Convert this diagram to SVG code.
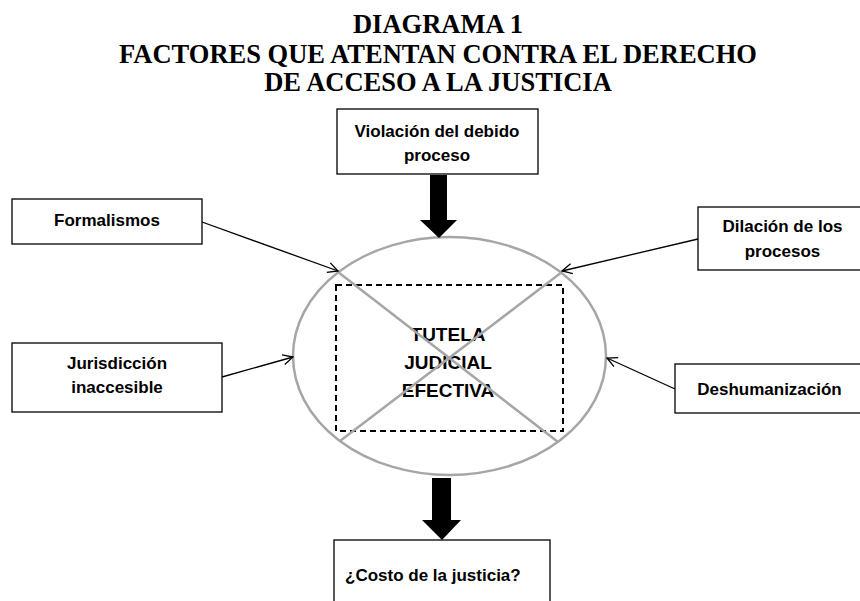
<svg xmlns="http://www.w3.org/2000/svg" width="860" height="601" viewBox="0 0 860 601">
<defs>
<style>
.title{font-family:"Liberation Serif","Times New Roman",serif;font-weight:bold;font-size:26.5px;fill:#000;text-anchor:middle}
.lbl{font-family:"Liberation Sans",Arial,sans-serif;font-weight:bold;font-size:17px;fill:#000;text-anchor:middle}
.center{font-family:"Liberation Sans",Arial,sans-serif;font-weight:bold;font-size:19px;fill:#000;text-anchor:middle}
.box{fill:#fff;stroke:#000;stroke-width:1.3}
.thin{stroke:#000;stroke-width:1.3;fill:none;marker-end:url(#open)}
.gray{stroke:#a6a6a6;stroke-width:2.5;fill:none}
.big{fill:#000;stroke:none}
</style>
<marker id="open" viewBox="0 0 12 12" refX="11" refY="6" markerWidth="12" markerHeight="12" markerUnits="userSpaceOnUse" orient="auto">
<path d="M1,1 L11,6 L1,11" fill="none" stroke="#000" stroke-width="1.3"/>
</marker>
</defs>
<rect width="860" height="601" fill="#fff"/>
<g id="title">
<text class="title" x="438" y="33">DIAGRAMA 1</text>
<text class="title" x="438" y="62.5">FACTORES QUE ATENTAN CONTRA EL DERECHO</text>
<text class="title" x="438" y="91">DE ACCESO A LA JUSTICIA</text>
</g>
<g id="center-node">
<ellipse class="gray" cx="449.5" cy="356" rx="156.5" ry="119"/>
<rect x="336" y="285" width="227" height="146" fill="none" stroke="#000" stroke-width="2" stroke-dasharray="6,4"/>
<text class="center" x="448" y="340.5">TUTELA</text>
<text class="center" x="448" y="369">JUDICIAL</text>
<text class="center" x="448" y="397">EFECTIVA</text>
<line class="gray" x1="338" y1="272" x2="558" y2="442"/>
<line class="gray" x1="562" y1="272" x2="340" y2="441"/>
</g>
<g id="violacion">
<rect class="box" x="337" y="109" width="201" height="65"/>
<text class="lbl" x="437" y="137">Violación del debido</text>
<text class="lbl" x="437" y="161">proceso</text>
</g>
<g id="formalismos">
<rect class="box" x="12" y="199" width="190" height="45"/>
<text class="lbl" x="107" y="226">Formalismos</text>
</g>
<g id="jurisdiccion">
<rect class="box" x="12" y="343" width="210" height="69"/>
<text class="lbl" x="117" y="369">Jurisdicción</text>
<text class="lbl" x="117" y="393">inaccesible</text>
</g>
<g id="dilacion">
<rect class="box" x="698" y="207" width="175" height="63"/>
<text class="lbl" x="782.5" y="232">Dilación de los</text>
<text class="lbl" x="782.5" y="257">procesos</text>
</g>
<g id="deshumanizacion">
<rect class="box" x="675" y="364" width="198" height="49"/>
<text class="lbl" x="769.5" y="395">Deshumanización</text>
</g>
<g id="costo">
<rect class="box" x="334" y="540" width="216" height="70"/>
<text class="lbl" x="345" y="581" style="text-anchor:start">¿Costo de la justicia?</text>
</g>
<g id="connectors">
<polygon class="big" points="430,175 447,175 447,220 457,220 439,238 420,220 430,220"/>
<polygon class="big" points="432,478 451,478 451,520 461,520 442,540 422,520 432,520"/>
<line class="thin" x1="202" y1="222" x2="338" y2="271"/>
<line class="thin" x1="222" y1="377" x2="293" y2="357"/>
<line class="thin" x1="698" y1="239" x2="562" y2="271"/>
<line class="thin" x1="675" y1="389" x2="607" y2="358"/>
</g>
</svg>
